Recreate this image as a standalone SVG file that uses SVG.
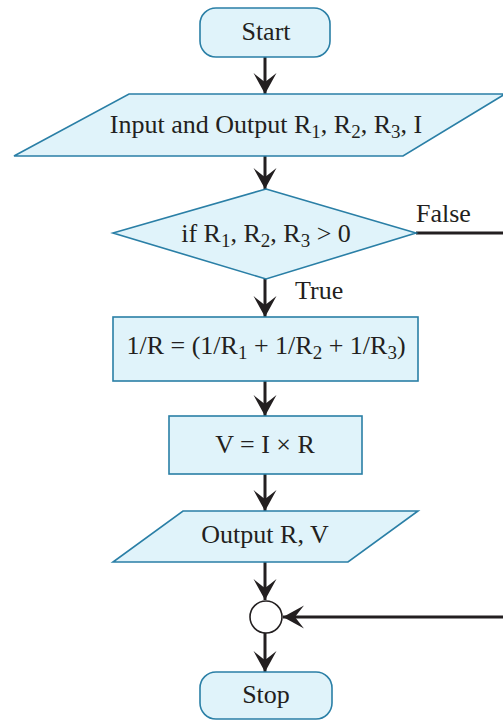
<svg xmlns="http://www.w3.org/2000/svg" width="503" height="720" viewBox="0 0 503 720">
<defs>
<style>
.node{fill:#e0f3fa;stroke:#2a7fa6;stroke-width:1.6}
.lbl{font-family:"Liberation Serif","Times New Roman",serif;font-size:26px;fill:#231f20;text-anchor:middle}
.side{font-family:"Liberation Serif","Times New Roman",serif;font-size:26px;fill:#231f20}
.sub{font-size:19px}
.conn{fill:none;stroke:#231f20;stroke-width:3}
</style>
<marker id="ah" markerUnits="userSpaceOnUse" viewBox="-22 -12 23 24" refX="0" refY="0" markerWidth="23" markerHeight="24" orient="auto">
<path d="M0,0 L-21,-11.5 Q-15,-4 -12,0 Q-15,4 -21,11.5 Z" fill="#231f20"/>
</marker>
</defs>
<g id="connectors">
<path class="conn" d="M265,57 V94" marker-end="url(#ah)"/>
<path class="conn" d="M265,156 V189" marker-end="url(#ah)"/>
<path class="conn" d="M265,279 V317" marker-end="url(#ah)"/>
<path class="conn" d="M265,381 V416" marker-end="url(#ah)"/>
<path class="conn" d="M265,474 V511" marker-end="url(#ah)"/>
<path class="conn" d="M265,562 V600" marker-end="url(#ah)"/>
<path class="conn" d="M265,633 V672" marker-end="url(#ah)"/>
<path class="conn" d="M416,233 H515 V617 H283" marker-end="url(#ah)"/>
<text class="side" x="416" y="222">False</text>
<text class="side" x="295" y="299">True</text>
</g>
<g id="start">
<rect class="node" x="200" y="8" width="130" height="49" rx="16"/>
<text class="lbl" x="266" y="40">Start</text>
</g>
<g id="input">
<polygon class="node" points="129,94 505,94 403,156 14,156"/>
<text class="lbl" x="266" y="133">Input and Output R<tspan class="sub" dy="5">1</tspan><tspan dy="-5">, R</tspan><tspan class="sub" dy="5">2</tspan><tspan dy="-5">, R</tspan><tspan class="sub" dy="5">3</tspan><tspan dy="-5">, I</tspan></text>
</g>
<g id="decision">
<polygon class="node" points="266,189 416,233 266,279 113,233"/>
<text class="lbl" x="266" y="242">if R<tspan class="sub" dy="5">1</tspan><tspan dy="-5">, R</tspan><tspan class="sub" dy="5">2</tspan><tspan dy="-5">, R</tspan><tspan class="sub" dy="5">3</tspan><tspan dy="-5"> &gt; 0</tspan></text>
</g>
<g id="calc1">
<rect class="node" x="113" y="317" width="305" height="64"/>
<text class="lbl" x="266" y="354">1/R = (1/R<tspan class="sub" dy="5">1</tspan><tspan dy="-5"> + 1/R</tspan><tspan class="sub" dy="5">2</tspan><tspan dy="-5"> + 1/R</tspan><tspan class="sub" dy="5">3</tspan><tspan dy="-5">)</tspan></text>
</g>
<g id="calc2">
<rect class="node" x="169" y="416" width="193" height="58"/>
<text class="lbl" x="265" y="453">V = I × R</text>
</g>
<g id="output">
<polygon class="node" points="183,511 418,511 348,562 113,562"/>
<text class="lbl" x="265" y="543">Output R, V</text>
</g>
<g id="connector-circle">
<circle cx="266" cy="617" r="16" fill="#ffffff" stroke="#231f20" stroke-width="1.6"/>
</g>
<g id="stop">
<rect class="node" x="200" y="672" width="132" height="47" rx="16"/>
<text class="lbl" x="266" y="703">Stop</text>
</g>
</svg>
